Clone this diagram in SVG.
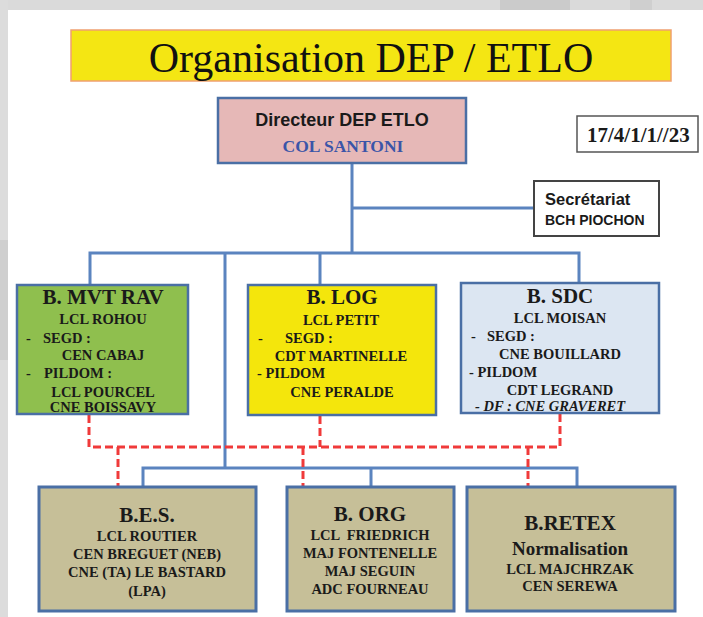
<svg xmlns="http://www.w3.org/2000/svg" width="703" height="617" viewBox="0 0 703 617">
<style>
.bg{fill:#ffffff}
.box{stroke:#4a6fa5;stroke-width:2.5}
.low{fill:#c6bf98;stroke:#4a6fa5;stroke-width:3}
.blue{fill:none;stroke:#5b84bf;stroke-width:3}
.red{fill:none;stroke:#f03a3a;stroke-width:3;stroke-dasharray:8 4}
.s{font-family:"Liberation Serif","DejaVu Serif",serif;font-weight:bold;fill:#1a1a1a}
.t{font-size:21px;text-anchor:middle}
.n{font-size:14.5px;text-anchor:middle}
.l{font-size:14.5px}
.sans{font-family:"Liberation Sans","DejaVu Sans",sans-serif;font-weight:bold;fill:#1a1a1a}
.ttl{font-family:"Liberation Serif","DejaVu Serif",serif;font-size:42px;text-anchor:middle;fill:#111}
</style>
<rect class="bg" x="0" y="0" width="703" height="617"/>
<rect x="0" y="0" width="703" height="10" fill="#dadada"/>
<rect x="500" y="0" width="70" height="10" fill="#cbcbcb"/>
<rect x="630" y="0" width="22" height="10" fill="#cfcfcf"/>
<rect x="0" y="0" width="8" height="617" fill="#dcdcdc"/>
<rect x="0" y="240" width="8" height="120" fill="#cfcfcf"/>

<g id="title">
<rect x="71" y="30" width="600" height="51" fill="#f4e613" stroke="#f0a070" stroke-width="1.5"/>
<text class="ttl" x="371" y="72">Organisation DEP / ETLO</text>
</g>

<g id="connectors">
<path class="blue" d="M352 163 V253 M352 208 H534 M90 285 V253 H579 V283 M320 253 V285 M225 253 V468 M143 487 V468 H577 V487 M371 468 V487"/>
<path class="red" d="M89 415 V447 H560 V414 M320 416 V447 M118 447 V487 M303 447 V487 M528 447 V487"/>
</g>

<g id="directeur">
<rect x="218" y="98" width="248" height="65" fill="#e6b8b7" class="box"/>
<text class="sans" x="342" y="126" font-size="18" text-anchor="middle">Directeur DEP ETLO</text>
<text class="s" x="343" y="152" font-size="17.5" text-anchor="middle" style="fill:#3a55a8">COL SANTONI</text>
</g>

<g id="date">
<rect x="577" y="116" width="121" height="36" fill="#fff" stroke="#555" stroke-width="1.5"/>
<text class="s" x="587" y="142" font-size="21">17/4/1/1//23</text>
</g>

<g id="secretariat">
<rect x="534" y="181" width="125" height="55" fill="#fff" stroke="#444" stroke-width="2"/>
<text class="sans" x="545" y="205" font-size="16.5">Secrétariat</text>
<text class="sans" x="545" y="225" font-size="14">BCH PIOCHON</text>
</g>

<g id="b-mvt-rav">
<rect x="17" y="285" width="171" height="129" fill="#8fbf4e" class="box"/>
<text class="s t" x="103" y="304">B. MVT RAV</text>
<text class="s n" x="103" y="324">LCL ROHOU</text>
<text class="s l" x="26" y="343">-</text>
<text class="s l" x="43" y="343">SEGD :</text>
<text class="s n" x="103" y="360">CEN CABAJ</text>
<text class="s l" x="26" y="378">-</text>
<text class="s l" x="44" y="378">PILDOM :</text>
<text class="s n" x="103" y="397">LCL POURCEL</text>
<text class="s n" x="103" y="412">CNE BOISSAVY</text>
</g>

<g id="b-log">
<rect x="248" y="285" width="188" height="130" fill="#f4e60c" class="box"/>
<text class="s t" x="342" y="304">B. LOG</text>
<text class="s n" x="341" y="325">LCL PETIT</text>
<text class="s l" x="258" y="343">-</text>
<text class="s l" x="285" y="343">SEGD :</text>
<text class="s n" x="341" y="361">CDT MARTINELLE</text>
<text class="s l" x="257" y="378">- PILDOM</text>
<text class="s n" x="342" y="397">CNE PERALDE</text>
</g>

<g id="b-sdc">
<rect x="461" y="283" width="198" height="130" fill="#dce6f2" class="box"/>
<text class="s t" x="560" y="303">B. SDC</text>
<text class="s n" x="560" y="323">LCL MOISAN</text>
<text class="s l" x="471" y="341">-</text>
<text class="s l" x="487" y="341">SEGD :</text>
<text class="s n" x="560" y="359">CNE BOUILLARD</text>
<text class="s l" x="469" y="377">- PILDOM</text>
<text class="s n" x="560" y="395">CDT LEGRAND</text>
<text class="s l" x="475" y="411" font-style="italic">- DF : CNE GRAVERET</text>
</g>

<g id="b-es">
<rect x="39" y="487" width="217" height="124" class="low"/>
<text class="s t" x="147" y="522" font-size="22">B.E.S.</text>
<text class="s n" x="147" y="541">LCL ROUTIER</text>
<text class="s n" x="147" y="559">CEN BREGUET (NEB)</text>
<text class="s n" x="147" y="577">CNE (TA) LE BASTARD</text>
<text class="s n" x="147" y="596">(LPA)</text>
</g>

<g id="b-org">
<rect x="287" y="487" width="167" height="124" class="low"/>
<text class="s t" x="370" y="521" font-size="22">B. ORG</text>
<text class="s n" x="370" y="540" style="white-space:pre">LCL  FRIEDRICH</text>
<text class="s n" x="370" y="558">MAJ FONTENELLE</text>
<text class="s n" x="370" y="576">MAJ SEGUIN</text>
<text class="s n" x="370" y="594">ADC FOURNEAU</text>
</g>

<g id="b-retex">
<rect x="467" y="487" width="208" height="124" class="low"/>
<text class="s t" x="570" y="530" font-size="22">B.RETEX</text>
<text class="s" x="570" y="555" font-size="19" text-anchor="middle">Normalisation</text>
<text class="s n" x="570" y="574">LCL MAJCHRZAK</text>
<text class="s n" x="570" y="591">CEN SEREWA</text>
</g>
</svg>
